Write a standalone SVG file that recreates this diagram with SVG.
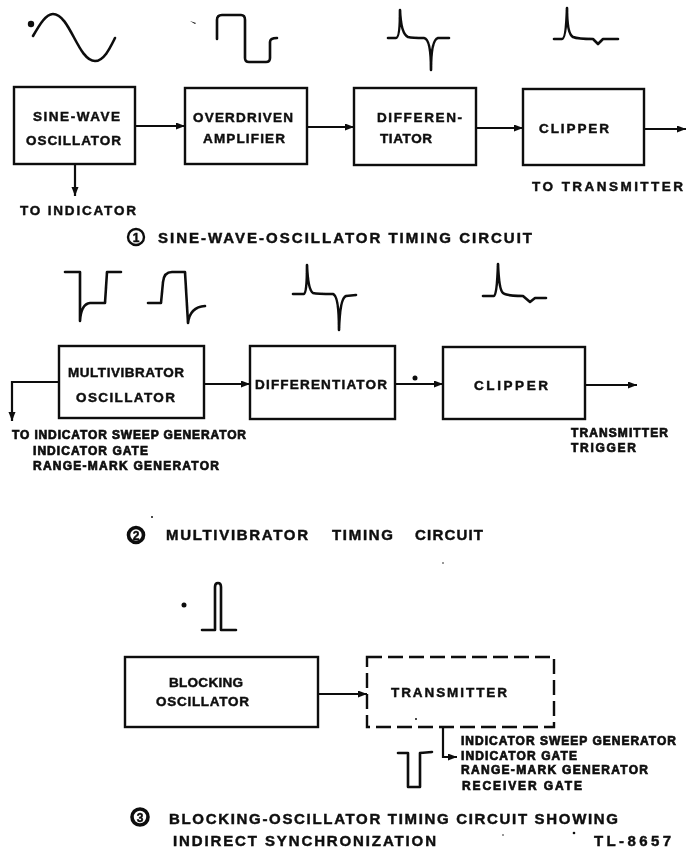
<svg xmlns="http://www.w3.org/2000/svg" width="686" height="850" viewBox="0 0 686 850">
<style>
text{font-family:"Liberation Sans",Arial,sans-serif;font-weight:700;fill:#0d0d0d;stroke:#0d0d0d;stroke-width:.45}
.n{font-size:13.5px}
.s{font-size:12px;stroke-width:.7}
.c{font-size:15px}
.g{font-size:12px;text-anchor:middle}
.b{fill:none;stroke:#111;stroke-width:2.4}
.d{stroke-dasharray:15 6}
.w{fill:none;stroke:#111;stroke-width:2.6;stroke-linejoin:round;stroke-linecap:round}
.l{fill:none;stroke:#111;stroke-width:2.2}
.k{fill:#111}
.r{fill:#fff;stroke:#111;stroke-width:2.4}
.q{fill:#fff;stroke:#111;stroke-width:3.6}
</style>
<defs>
<marker id="a" markerUnits="userSpaceOnUse" markerWidth="10" markerHeight="8" refX="9" refY="3.5" orient="auto"><path d="M0 0L9 3.5L0 7Z" fill="#111"/></marker>
<filter id="soft" filterUnits="userSpaceOnUse" x="0" y="0" width="686" height="850"><feGaussianBlur stdDeviation=".35"/></filter>
</defs>
<rect width="686" height="850" fill="#fff"/>
<g filter="url(#soft)">
<g id="connectors">
<path class="l" d="M135 126H185" marker-end="url(#a)"/>
<path class="l" d="M75 164V196" marker-end="url(#a)"/>
<path class="l" d="M307 127H354" marker-end="url(#a)"/>
<path class="l" d="M477 128H523" marker-end="url(#a)"/>
<path class="l" d="M644 129H686" marker-end="url(#a)"/>
<path class="l" d="M59 382H12V421" marker-end="url(#a)"/>
<path class="l" d="M204 384H250" marker-end="url(#a)"/>
<path class="l" d="M395 384H443" marker-end="url(#a)"/>
<path class="l" d="M585 385H637" marker-end="url(#a)"/>
<path class="l" d="M318 694H367" marker-end="url(#a)"/>
<path class="l" d="M443 728V757H457" marker-end="url(#a)"/>
</g>
<g id="sine-wave-oscillator"><rect class="b" x="14" y="87" width="121" height="77"/>
<text class="n" x="33" y="121" textLength="87">SINE-WAVE</text>
<text class="n" x="26" y="145" textLength="95">OSCILLATOR</text></g>
<g id="overdriven-amplifier"><rect class="b" x="185" y="88" width="122" height="76"/>
<text class="n" x="193" y="122" textLength="100">OVERDRIVEN</text>
<text class="n" x="203" y="143" textLength="82">AMPLIFIER</text></g>
<g id="differentiator-1"><rect class="b" x="354" y="88" width="122" height="77"/>
<text class="n" x="377" y="122" textLength="85">DIFFEREN-</text>
<text class="n" x="380" y="143" textLength="52">TIATOR</text></g>
<g id="clipper-1"><rect class="b" x="523" y="89" width="121" height="76"/>
<text class="n" x="539" y="133" textLength="70">CLIPPER</text></g>
<g id="multivibrator-oscillator"><rect class="b" x="59" y="346" width="145" height="72"/>
<text class="n" x="68" y="377" textLength="116">MULTIVIBRATOR</text>
<text class="n" x="76" y="402" textLength="99">OSCILLATOR</text></g>
<g id="differentiator-2"><rect class="b" x="250" y="346" width="145" height="73"/>
<text class="n" x="255" y="389" textLength="132">DIFFERENTIATOR</text></g>
<g id="clipper-2"><rect class="b" x="443" y="347" width="142" height="72"/>
<text class="n" x="474" y="390" textLength="74">CLIPPER</text></g>
<g id="blocking-oscillator"><rect class="b" x="125" y="657" width="193" height="70"/>
<text class="n" x="169" y="687" textLength="74">BLOCKING</text>
<text class="n" x="156" y="706" textLength="93">OSCILLATOR</text></g>
<g id="transmitter"><rect class="b d" x="367" y="657" width="187" height="70"/>
<text class="n" x="391" y="697" textLength="116">TRANSMITTER</text></g>
<g id="waveforms">
<path class="w" d="M33 36C40 24 46 14 53 14C70 14 78 61 95 61C104 61 110 48 115 38"/>
<circle class="k" cx="31" cy="24" r="3.2"/>
<path class="w" d="M217 39V20Q217 15 222 15H241Q245 15 245 20V58Q245 62 249 62H266Q270 62 270 58V42Q270 38 277 38"/>
<path class="w" d="M388 38H396Q400 38 400 10Q401 34 408 37Q412 38 424 38Q431 39 431 70Q431 40 438 38H449"/>
<path class="w" d="M554 39H562Q566 39 567 8Q567 34 573 37Q578 39 593 39L598 44L603 39H618"/>
<path class="w" d="M65 272H80V321Q81 304 90 303H105L107 272H121"/>
<path class="w" d="M148 303H161L163 282Q164 272 172 272H185L188 323Q190 307 205 306"/>
<path class="w" d="M293 294H304Q307 294 307 265Q308 290 313 293Q317 294 333 294Q339 296 339 330Q340 298 346 296L356 295"/>
<path class="w" d="M483 296H494Q497 296 498 264Q499 290 503 293Q507 296 523 296L530 302L535 298H546"/>
<path class="w" d="M202 630H215V587Q215 583 218 583Q221 583 221 587V630H236"/>
<path class="w" d="M398 753H408V787H420V753L432 752"/>
<circle class="k" cx="415" cy="378" r="2.5"/><circle class="k" cx="184" cy="605" r="2.5"/>
<path class="k" d="M190 21L196 23L195 24Z"/>
<circle class="k" cx="416" cy="719" r="1"/><circle class="k" cx="503" cy="835" r=".8"/><circle class="k" cx="574" cy="833" r="1.3"/><circle class="k" cx="443" cy="563" r=".8"/><circle class="k" cx="152" cy="517" r="1"/>
</g>
<g id="labels">
<text class="n" x="20" y="215" textLength="116">TO INDICATOR</text>
<text class="n" x="532" y="191" textLength="151">TO TRANSMITTER</text>
<text class="s" x="12" y="439" textLength="234">TO INDICATOR SWEEP GENERATOR</text>
<text class="s" x="33" y="455" textLength="115">INDICATOR GATE</text>
<text class="s" x="33" y="470" textLength="186">RANGE-MARK GENERATOR</text>
<text class="s" x="571" y="437" textLength="97">TRANSMITTER</text>
<text class="s" x="571" y="452" textLength="65">TRIGGER</text>
<text class="s" x="461" y="745" textLength="215">INDICATOR SWEEP GENERATOR</text>
<text class="s" x="461" y="760" textLength="116">INDICATOR GATE</text>
<text class="s" x="461" y="774" textLength="187">RANGE-MARK GENERATOR</text>
<text class="s" x="462" y="790" textLength="120">RECEIVER GATE</text>
</g>
<g id="captions">
<circle class="r" cx="136" cy="237" r="8"/><text class="g" x="136" y="242">1</text>
<text class="c" x="158" y="243" textLength="374">SINE-WAVE-OSCILLATOR TIMING CIRCUIT</text>
<circle class="q" cx="136" cy="535" r="7.5"/><text class="g" x="136" y="539.500">2</text>
<text class="c" x="166" y="540" textLength="142">MULTIVIBRATOR</text>
<text class="c" x="332" y="540" textLength="61">TIMING</text>
<text class="c" x="415" y="540" textLength="68">CIRCUIT</text>
<circle class="q" cx="140" cy="817" r="8"/><text class="g" x="140" y="821.500">3</text>
<text class="c" x="169" y="824" textLength="449">BLOCKING-OSCILLATOR TIMING CIRCUIT SHOWING</text>
<text class="c" x="173" y="846" textLength="263">INDIRECT SYNCHRONIZATION</text>
<text class="c" x="594" y="846" textLength="77">TL-8657</text>
</g>
</g>
</svg>
